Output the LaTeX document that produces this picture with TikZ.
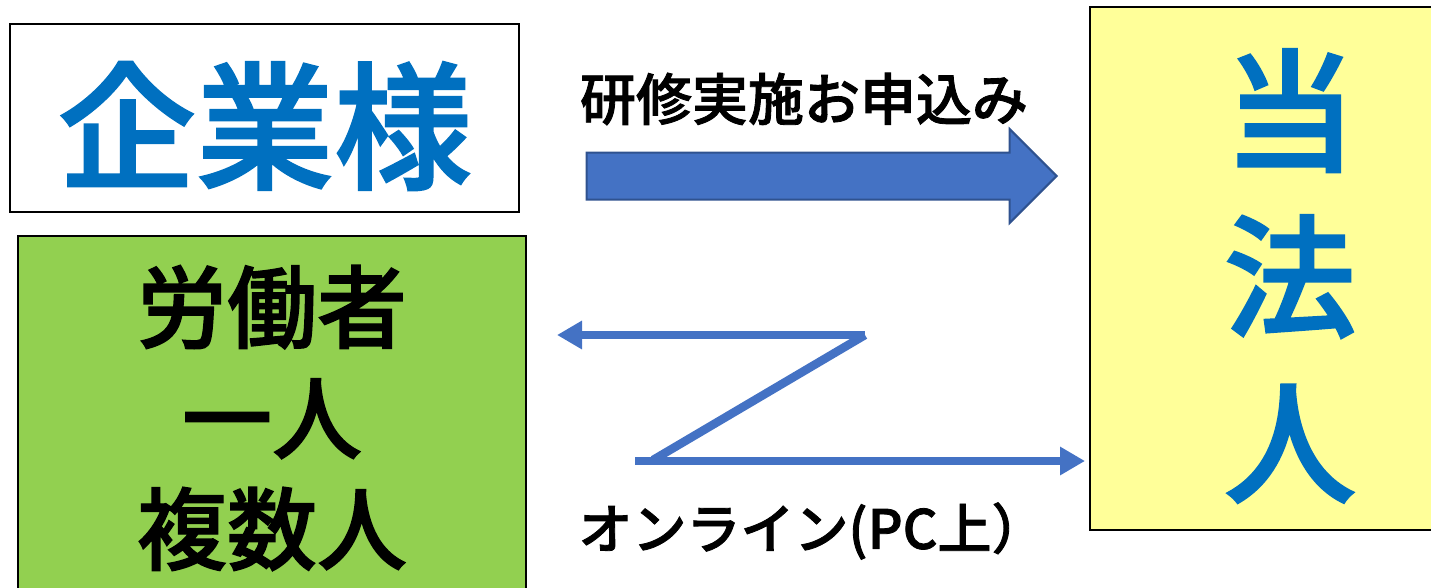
\documentclass[tikz,border=0pt]{standalone}
\usepackage{fontspec}
\setmainfont{Noto Sans CJK JP}[BoldFont={* Medium}, BoldFeatures={FakeBold=1.5}]
\usetikzlibrary{shapes.arrows,arrows.meta}
\definecolor{textblue}{HTML}{0070C0}
\definecolor{boxgreen}{HTML}{92D050}
\definecolor{boxyellow}{HTML}{FFFF99}
\definecolor{arrowblue}{HTML}{4472C4}
\definecolor{arrowedge}{HTML}{2F528F}
\tikzset{
  box/.style={draw=black, line width=2.5pt, inner sep=0pt},
  zline/.style={draw=arrowblue, line width=8.5pt},
  ztip/.style={-{Triangle[length=25pt,width=27pt]}},
}
\begin{document}
\begin{tikzpicture}[x=1pt,y=-1pt]
  \useasboundingbox (0,0) rectangle (1431,587);
  % boxes
  \node[box, fill=white, minimum width=509pt, minimum height=188pt] (company) at (264.5,118) {};
  \node[font=\fontsize{138}{138}\selectfont\bfseries, text=textblue]
        (companytxt) at (265,126) {企業様};
  \node[box, fill=boxgreen, minimum width=508pt, minimum height=364pt,
        align=center, font=\fontsize{90}{111}\selectfont\bfseries]
        (workers) at (272,418) {労働者\\一人\\複数人};
  \node[box, fill=boxyellow, minimum width=400pt, minimum height=523pt]
        (office) at (1290,268.5) {};
  \node[align=center, font=\fontsize{133}{166}\selectfont\bfseries, text=textblue]
        (officetxt) at (1290,276) {当\\法\\人};
  % request arrow
  \node[single arrow, fill=arrowblue, draw=arrowedge, line width=2pt,
        minimum height=470pt, inner xsep=0pt, inner ysep=22.5pt,
        single arrow head extend=23.5pt, anchor=tip]
        (request) at (1058,176) {};
  \node[font=\fontsize{56}{56}\selectfont\bfseries] (reqtxt) at (804,99) {研修実施お申込み};
  % online connector
  \coordinate (ztop) at (865,335);
  \coordinate (zleft) at (557,335);
  \coordinate (zlow) at (653,460);
  \coordinate (zstart) at (635,461);
  \coordinate (zright) at (1085,461);
  \draw[zline, ztip] (ztop) -- (zleft);
  \draw[zline] (ztop) -- (zlow);
  \draw[zline, ztip] (zstart) -- (zright);
  \node[font=\fontsize{54}{54}\selectfont\bfseries] (onlinetxt) at (812,531) {オンライン(PC上）};
\end{tikzpicture}
\end{document}
